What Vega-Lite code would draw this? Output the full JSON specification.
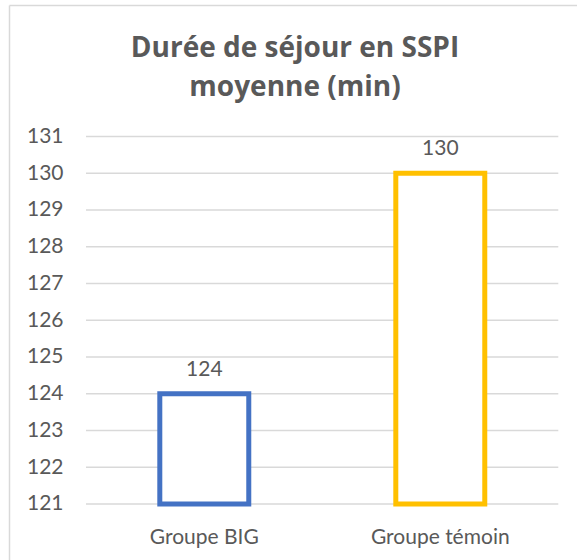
{
  "$schema": "https://vega.github.io/schema/vega-lite/v6.json",
  "width": 568,
  "height": 555,
  "autosize": {"type": "none"},
  "padding": {"left": 9, "top": 5, "right": 0, "bottom": 0},
  "background": "white",
  "config": {
    "view": {"stroke": null},
    "font": "Lato",
    "axis": {"labelFont": "Lato", "labelFontSize": 21, "labelColor": "#595959", "ticks": false, "grid": false},
    "axisY": {"domain": true, "domainColor": "#D9D9D9", "domainWidth": 1.5, "labelPadding": -54, "labelAlign": "right"},
    "axisBottom": {"domain": false, "labelPadding": -17, "labelBaseline": "alphabetic", "labelAngle": 0},
    "axisTop": {"domain": true, "domainColor": "#D9D9D9", "domainWidth": 1.5, "labels": false}
  },
  "title": {
    "text": ["Durée de séjour en SSPI", "moyenne (min)"],
    "font": "Open Sans",
    "fontSize": 28,
    "fontWeight": "bold",
    "color": "#595959",
    "anchor": "middle",
    "baseline": "top",
    "lineHeight": 39,
    "offset": -97,
    "dx": 2
  },
  "datasets": {
    "bars": [
      {"groupe": "Groupe BIG", "duree": 124},
      {"groupe": "Groupe témoin", "duree": 130}
    ],
    "grid": [
      {"v": 121}, {"v": 122}, {"v": 123}, {"v": 124}, {"v": 125}, {"v": 126},
      {"v": 127}, {"v": 128}, {"v": 129}, {"v": 130}, {"v": 131}
    ]
  },
  "layer": [
    {
      "data": {"name": "grid"},
      "mark": {"type": "rule", "color": "#D9D9D9", "strokeWidth": 1.5},
      "encoding": {
        "y": {"field": "v", "type": "quantitative", "scale": {"domain": [119.476, 134.578], "nice": false, "zero": false}, "axis": {"values": [121,122,123,124,125,126,127,128,129,130,131], "title": null}},
        "x": {"datum": 0, "type": "quantitative", "scale": {"domain": [-0.163, 1.0396], "nice": false, "zero": false}, "axis": {"orient": "top", "title": null, "labels": false, "domain": true}},
        "x2": {"datum": 1}
      }
    },
    {
      "data": {"name": "bars"},
      "layer": [
        {
          "mark": {"type": "bar", "fill": "white", "strokeWidth": 5},
          "encoding": {
            "x": {"field": "groupe", "type": "nominal", "sort": null, "scale": {"paddingInner": 0.623, "paddingOuter": 0.5149, "align": 0.6205}, "axis": {"orient": "bottom", "title": null}},
            "y": {"field": "duree", "type": "quantitative", "scale": {"domain": [119.476, 134.578], "nice": false, "zero": false}, "axis": {"values": [121,122,123,124,125,126,127,128,129,130,131], "title": null}},
            "y2": {"datum": 121},
            "stroke": {"field": "groupe", "type": "nominal", "sort": null, "scale": {"range": ["#4472C4", "#FFC000"]}, "legend": null}
          }
        },
        {
          "mark": {"type": "text", "dy": -18, "baseline": "alphabetic", "font": "Lato", "fontSize": 21, "color": "#595959"},
          "encoding": {
            "x": {"field": "groupe", "type": "nominal", "sort": null, "axis": {"orient": "bottom", "title": null}},
            "y": {"field": "duree", "type": "quantitative", "scale": {"domain": [119.476, 134.578], "nice": false, "zero": false}, "axis": {"values": [121,122,123,124,125,126,127,128,129,130,131], "title": null}},
            "text": {"field": "duree", "type": "quantitative"}
          }
        }
      ]
    }
  ],
  "resolve": {"scale": {"x": "independent"}, "axis": {"x": "independent"}}
}
